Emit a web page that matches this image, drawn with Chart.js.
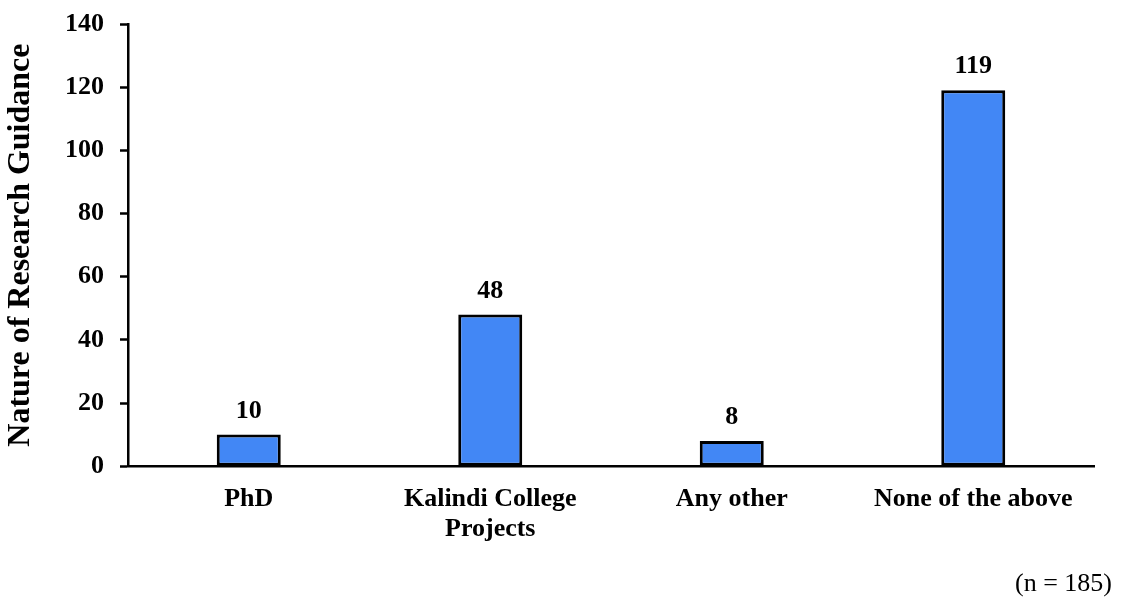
<!DOCTYPE html>
<html>
<head>
<meta charset="utf-8">
<script src="https://cdn.jsdelivr.net/npm/chart.js@4/dist/chart.umd.min.js"></script>
<style>
  html, body { margin: 0; padding: 0; background: #fff; }
  #wrap { width: 1127px; height: 603px; }
</style>
</head>
<body>
<div id="wrap"><canvas id="chart"></canvas></div>
<script>
// data
const categories = ['PhD', ['Kalindi College', 'Projects'], 'Any other', 'None of the above'];
const counts = [10, 48, 8, 119];
const yTicks = [0, 20, 40, 60, 80, 100, 120, 140];
const yTitle = 'Nature of Research Guidance';
const note = '(n = 185)';

const FONT = '"Liberation Serif", "Times New Roman", serif';

// value labels above bars + sample size note
const extras = {
    id: 'extras',
    afterDatasetsDraw(chart) {
        const ctx = chart.ctx;
        const meta = chart.getDatasetMeta(0);
        ctx.save();
        ctx.font = 'bold 26px ' + FONT;
        ctx.fillStyle = '#000';
        ctx.textAlign = 'center';
        ctx.textBaseline = 'alphabetic';
        meta.data.forEach((bar, i) => {
            ctx.fillText(counts[i], bar.x, bar.y - 17);
        });
        ctx.font = '26px ' + FONT;
        ctx.textAlign = 'right';
        ctx.textBaseline = 'middle';
        ctx.fillText(note, chart.width - 15, 584);
        ctx.restore();
    }
};

new Chart(document.getElementById('chart'), {
    type: 'bar',
    data: {
        labels: categories,
        datasets: [{
            data: counts,
            backgroundColor: '#4287f5',
            borderColor: '#000',
            borderWidth: 3,
            borderSkipped: false,
            categoryPercentage: 1,
            barPercentage: 0.265
        }]
    },
    options: {
        responsive: true,
        maintainAspectRatio: false,
        animation: false,
        layout: { padding: { top: 0, right: 33, left: 0, bottom: 49 } },
        plugins: {
            legend: { display: false },
            tooltip: { enabled: false },
            title: { display: false }
        },
        scales: {
            x: {
                grid: { display: false },
                border: { color: '#000', width: 2.5 },
                ticks: {
                    color: '#000',
                    font: { family: FONT, size: 26, weight: 'bold', lineHeight: 1.15 },
                    padding: 10,
                    maxRotation: 0
                }
            },
            y: {
                min: 0,
                max: 140,
                afterBuildTicks(axis) {
                    axis.ticks = yTicks.map(v => ({ value: v }));
                },
                afterFit(axis) {
                    axis.width = 128;
                    axis.paddingTop = 24;
                },
                grid: {
                    drawOnChartArea: false,
                    drawTicks: true,
                    tickLength: 8,
                    tickWidth: 2.5,
                    color: '#000'
                },
                border: { color: '#000', width: 2.5 },
                ticks: {
                    color: '#000',
                    font: { family: FONT, size: 26, weight: 'bold' },
                    padding: 16
                },
                title: {
                    display: true,
                    text: yTitle,
                    color: '#000',
                    font: { family: FONT, size: 32, weight: 'bold', lineHeight: 1.2 },
                    padding: { top: 2, bottom: 0 }
                }
            }
        }
    },
    plugins: [extras]
});
</script>
</body>
</html>
